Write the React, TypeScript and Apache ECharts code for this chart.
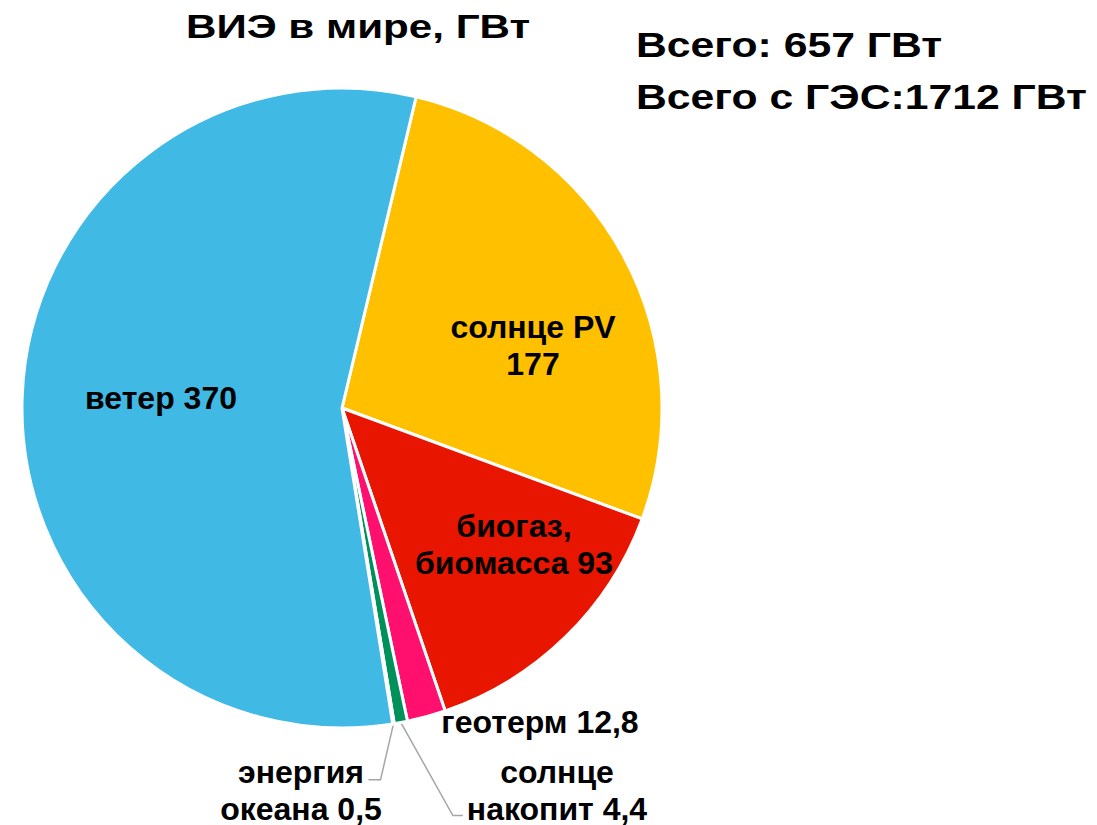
import React, { useEffect, useRef } from "react";
import * as echarts from "echarts";

const categories = ["солнце PV", "биогаз, биомасса", "геотерм", "солнце накопит", "энергия океана", "ветер"];
const values = [177, 93, 12.8, 4.4, 0.5, 370];
const labelTexts = ["солнце PV\n177", "биогаз,\nбиомасса 93", "геотерм 12,8", "солнце\nнакопит 4,4", "энергия\nокеана 0,5", "ветер 370"];
const colors = ["#FFC000", "#E81500", "#FF0F6E", "#00915A", "#2E75B6", "#41B9E5"];
const labelCenters = [[533, 345], [514, 544], [540, 722], [557, 790], [301, 790], [161, 398]];
const titleText = "ВИЭ в мире, ГВт";
const totalLines = ["Всего: 657 ГВт", "Всего с ГЭС:1712 ГВт"];

const FONT = 'Arial, "Liberation Sans", sans-serif';

export default function App() {
  const ref = useRef<HTMLDivElement>(null);
  useEffect(() => {
    if (!ref.current) return;
    const chart = echarts.init(ref.current, undefined, { renderer: "svg" });
    const data = categories.map((name, i) => {
      const outside = i >= 2 && i <= 4;
      return {
        name,
        value: values[i],
        itemStyle: { color: colors[i] },
        label: { position: outside ? "outside" : "inside" },
        labelLine: { show: i === 3 || i === 4 },
      };
    });
    chart.setOption({
      animation: false,
      backgroundColor: "#ffffff",
      graphic: [
        {
          type: "text",
          x: 358,
          y: 26,
          scaleX: 1.24,
          style: {
            text: titleText,
            font: `bold 34px ${FONT}`,
            fill: "#000",
            textAlign: "center",
            textVerticalAlign: "middle",
          },
        },
        ...totalLines.map((t, i) => ({
          type: "text",
          x: 636,
          y: 45 + i * 52,
          scaleX: 1.22,
          style: {
            text: t,
            font: `bold 35px ${FONT}`,
            fill: "#000",
            textAlign: "left",
            textVerticalAlign: "middle",
          },
        })),
      ],
      series: [
        {
          type: "pie",
          center: [342, 408],
          radius: 320,
          startAngle: 76.6,
          clockwise: true,
          avoidLabelOverlap: false,
          itemStyle: { borderColor: "#ffffff", borderWidth: 3 },
          label: {
            show: true,
            formatter: (p: any) => labelTexts[p.dataIndex],
            fontFamily: FONT,
            fontSize: 32,
            fontWeight: "bold",
            color: "#000",
            lineHeight: 37,
            align: "center",
          },
          labelLine: { lineStyle: { color: "#a6a6a6", width: 1.5 } },
          labelLayout: (params: any) => {
            const i = params.dataIndex;
            const c = labelCenters[i];
            const res: any = { x: c[0], y: c[1], align: "center", verticalAlign: "middle" };
            const pts = params.labelLinePoints;
            if (pts && (i === 3 || i === 4)) {
              const p0 = pts[0];
              if (i === 3) {
                res.labelLinePoints = [p0, [p0[0] + 52, p0[1] + 93], [p0[0] + 62, p0[1] + 93]];
              } else {
                res.labelLinePoints = [p0, [p0[0] - 13, p0[1] + 56], [p0[0] - 25, p0[1] + 56]];
              }
            }
            return res;
          },
          data,
        },
      ],
    });
    return () => chart.dispose();
  }, []);
  return <div ref={ref} style={{ position: "absolute", left: 0, top: 0, width: 1097, height: 825 }} />;
}
